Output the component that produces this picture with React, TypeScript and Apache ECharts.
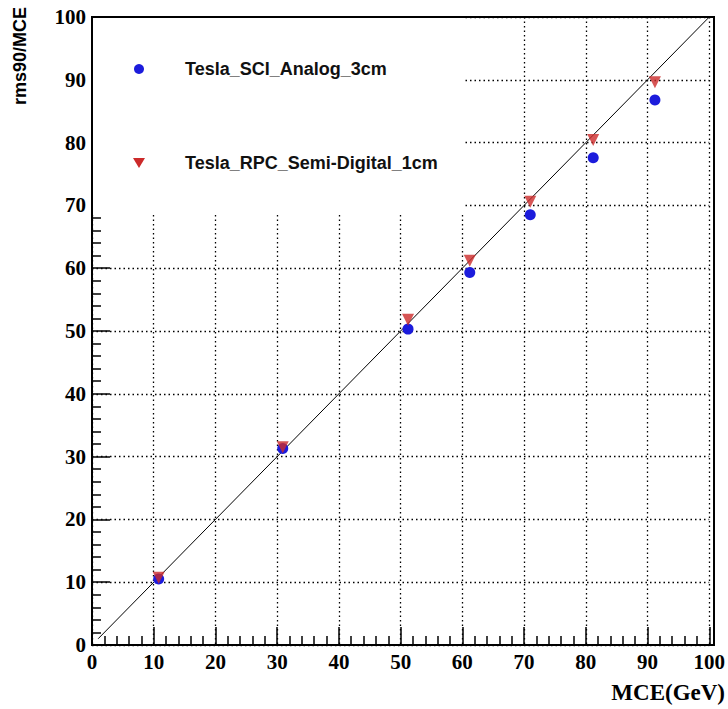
import React, { useEffect, useRef } from "react";
import * as echarts from "echarts";

const energies = [10.8, 30.9, 51.2, 61.2, 71.0, 81.2, 91.2];
const sciAnalog = [10.5, 31.3, 50.3, 59.3, 68.5, 77.6, 86.8];
const rpcSemiDigital = [10.7, 31.5, 51.8, 61.2, 70.6, 80.4, 89.6];
const diagonalX = [1, 100];
const seriesNames = ["Tesla_SCI_Analog_3cm", "Tesla_RPC_Semi-Digital_1cm"];
const xTitle = "MCE(GeV)";
const yTitle = "rms90/MCE";

const BLUE = "#1c1cdc";
const RED = "#cc2a2a";

export default function App() {
  const ref = useRef<HTMLDivElement>(null);
  useEffect(() => {
    if (!ref.current) return;
    const chart = echarts.init(ref.current, null, { renderer: "svg" });
    const L = 92, T = 17, R = 14, B = 64;
    const W = 728 - L - R, H = 709 - T - B;
    const labelFont = {
      fontFamily: "Liberation Serif",
      fontWeight: "bold" as const,
      fontSize: 21,
      color: "#000",
    };
    const axisCommon = {
      type: "value" as const,
      min: 0,
      max: 100,
      interval: 10,
      axisLine: { show: true, onZero: false, lineStyle: { color: "#000", width: 2 } },
      axisTick: { show: true, inside: true, length: 18, lineStyle: { color: "#000", width: 1.5 } },
      minorTick: { show: true, splitNumber: 5, length: 9, lineStyle: { color: "#000", width: 1.5 } },
      splitLine: { show: true, lineStyle: { color: "#000", width: 1.3, type: [1.5, 3] } },
      axisLabel: { ...labelFont, margin: 6 },
    };
    chart.setOption({
      animation: false,
      backgroundColor: "#fff",
      grid: { left: L, top: T, right: R, bottom: B, containLabel: false },
      xAxis: { ...axisCommon, axisLabel: { ...labelFont, margin: 6 } },
      yAxis: { ...axisCommon },
      series: [
        {
          type: "line",
          data: diagonalX.map((v) => [v, v]),
          showSymbol: false,
          symbol: "none",
          lineStyle: { color: "#000", width: 1 },
          z: 2,
          silent: true,
        },
        {
          name: seriesNames[0],
          type: "scatter",
          data: energies.map((e, i) => [e, sciAnalog[i]]),
          symbol: "circle",
          symbolSize: 11,
          itemStyle: { color: BLUE, opacity: 1 },
          z: 3,
        },
        {
          name: seriesNames[1],
          type: "scatter",
          data: energies.map((e, i) => [e, rpcSemiDigital[i]]),
          symbol: "triangle",
          symbolRotate: 180,
          symbolSize: 12,
          itemStyle: { color: RED, opacity: 0.8 },
          z: 4,
        },
      ],
      graphic: [
        {
          type: "rect",
          z: 20,
          shape: { x: L, y: T, width: 372, height: 195 },
          style: { fill: "#fff" },
        },
        {
          type: "rect",
          z: 30,
          shape: { x: L, y: T, width: W, height: H },
          style: { fill: "none", stroke: "#000", lineWidth: 2 },
        },
        {
          type: "circle",
          z: 31,
          shape: { cx: 139, cy: 69, r: 5 },
          style: { fill: BLUE },
        },
        {
          type: "polygon",
          z: 31,
          shape: { points: [[133, 158], [145, 158], [139, 168]] },
          style: { fill: RED },
        },
        {
          type: "text",
          z: 31,
          x: 185,
          y: 69,
          style: {
            text: seriesNames[0],
            fontFamily: "Liberation Sans",
            fontWeight: "bold",
            fontSize: 18,
            fill: "#111",
            textAlign: "left",
            textVerticalAlign: "middle",
          },
        },
        {
          type: "text",
          z: 31,
          x: 185,
          y: 163,
          style: {
            text: seriesNames[1],
            fontFamily: "Liberation Sans",
            fontWeight: "bold",
            fontSize: 18,
            fill: "#111",
            textAlign: "left",
            textVerticalAlign: "middle",
          },
        },
        {
          type: "text",
          z: 31,
          x: 20,
          y: 105,
          rotation: Math.PI / 2,
          style: {
            text: yTitle,
            fontFamily: "Liberation Sans",
            fontWeight: "bold",
            fontSize: 18,
            fill: "#000",
            textAlign: "left",
            textVerticalAlign: "middle",
          },
        },
        {
          type: "text",
          z: 31,
          x: 725,
          y: 692,
          style: {
            text: xTitle,
            fontFamily: "Liberation Serif",
            fontWeight: "bold",
            fontSize: 23,
            fill: "#000",
            textAlign: "right",
            textVerticalAlign: "middle",
          },
        },
      ],
    });
    return () => chart.dispose();
  }, []);
  return (
    <div
      ref={ref}
      style={{ position: "fixed", left: 0, top: 0, width: 728, height: 709, background: "#fff" }}
    />
  );
}
